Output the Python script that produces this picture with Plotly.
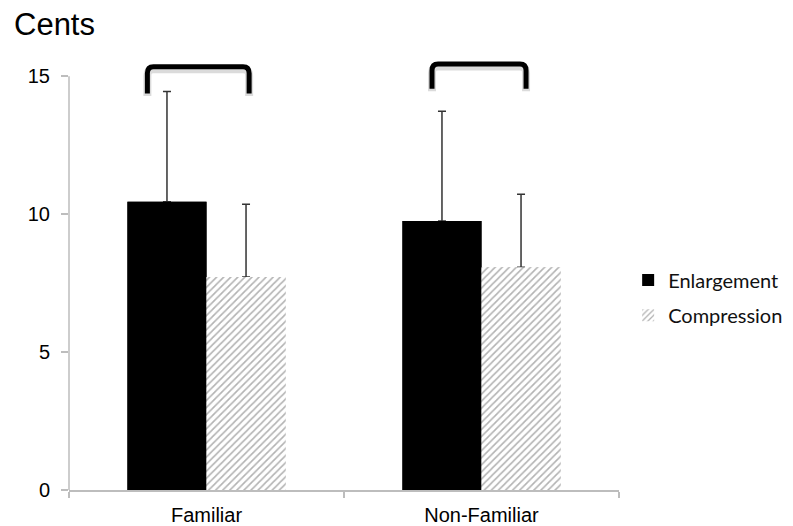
import plotly.graph_objects as go

# ---- data ----
categories = ["Familiar", "Non-Familiar"]
enlargement = [10.45, 9.75]
compression = [7.72, 8.08]
enlargement_err = [4.0, 3.98]
compression_err = [2.64, 2.64]
y_ticks = [0, 5, 10, 15]

err_style = dict(type="data", symmetric=False, color="#333333", thickness=1.5, width=4)
enl_marker = dict(color="black", line=dict(width=0))
comp_marker = dict(color="white", line=dict(width=0),
                   pattern=dict(shape="/", fgcolor="#686868", bgcolor="white",
                                size=5, solidity=0.33))

# ---- figure ----
fig = go.Figure()
fig.add_bar(x=categories, y=enlargement, name="Enlargement", offsetgroup="e",
            marker=enl_marker, legend="legend",
            error_y=dict(array=enlargement_err, arrayminus=[0] * 2, **err_style))
fig.add_bar(x=categories, y=compression, name="Compression", offsetgroup="c",
            marker=comp_marker, legend="legend2",
            error_y=dict(array=compression_err, arrayminus=[0] * 2, **err_style))
# same bars drawn again on top to hide the lower error-bar caps
fig.add_bar(x=categories, y=enlargement, offsetgroup="e", marker=enl_marker,
            showlegend=False, hoverinfo="skip")
fig.add_bar(x=categories, y=compression, offsetgroup="c", marker=comp_marker,
            showlegend=False, hoverinfo="skip")

# brackets over each category (decorations)
bracket_geo = [(-0.215, 0.155, 14.38, 15.35), (-0.18, 0.162, 14.55, 15.45)]
shapes = []
rx, ry = 0.022, 0.24
for i, (a, b, yb, yt) in enumerate(bracket_geo):
    x0, x1 = i + a, i + b
    for dy, col, w in [(-0.09, "rgba(0,0,0,0.14)", 8), (0, "black", 5)]:
        p = (f"M {x0},{yb+dy} L {x0},{yt-ry+dy} Q {x0},{yt+dy} {x0+rx},{yt+dy} "
             f"L {x1-rx},{yt+dy} Q {x1},{yt+dy} {x1},{yt-ry+dy} L {x1},{yb+dy}")
        shapes.append(dict(type="path", path=p, xref="x", yref="y",
                           line=dict(color=col, width=w), layer="above"))

# y axis line that stops at the top tick
shapes.append(dict(type="line", xref="paper", yref="y", x0=0, x1=0,
                   y0=y_ticks[0], y1=y_ticks[-1],
                   line=dict(color="#bdbdbd", width=1.5)))

leg_font = dict(family="Lato, Open Sans, sans-serif", size=20, color="#111111")
fig.update_layout(
    width=785, height=518,
    margin=dict(l=61, r=174, t=49, b=36, autoexpand=False),
    paper_bgcolor="white", plot_bgcolor="white",
    barmode="group", bargap=0.425, bargroupgap=0,
    font=dict(family="Liberation Sans, Arial, sans-serif", color="black"),
    shapes=shapes,
    showlegend=True,
    legend=dict(xref="container", yref="container", x=0.79, xanchor="left",
                y=0.475, yanchor="middle", font=leg_font, itemwidth=30,
                bgcolor="rgba(0,0,0,0)"),
    legend2=dict(xref="container", yref="container", x=0.79, xanchor="left",
                 y=0.407, yanchor="middle", font=leg_font, itemwidth=30,
                 bgcolor="rgba(0,0,0,0)"),
    annotations=[dict(text="Cents", xref="paper", yref="paper",
                      x=-0.104, y=1.074, xanchor="left", yanchor="middle",
                      showarrow=False,
                      font=dict(family="Liberation Sans, Arial, sans-serif",
                                size=31, color="black"))],
)
fig.update_xaxes(
    type="category", range=[-0.5, 1.5], automargin=False,
    showline=True, linecolor="#bdbdbd", linewidth=1.5,
    ticks="outside", tickson="boundaries", ticklen=6, tickcolor="#bdbdbd",
    tickwidth=1.5, tickfont=dict(size=20), showgrid=False, zeroline=False,
    ticklabelstandoff=6,
)
fig.update_yaxes(
    range=[0, 15.7], tickvals=y_ticks, showline=False, automargin=False,
    ticks="outside", ticklen=7, tickcolor="#bdbdbd", tickwidth=1.5,
    tickfont=dict(size=20), showgrid=False, zeroline=False,
    ticklabelstandoff=7,
)

fig.write_html("out.html")
